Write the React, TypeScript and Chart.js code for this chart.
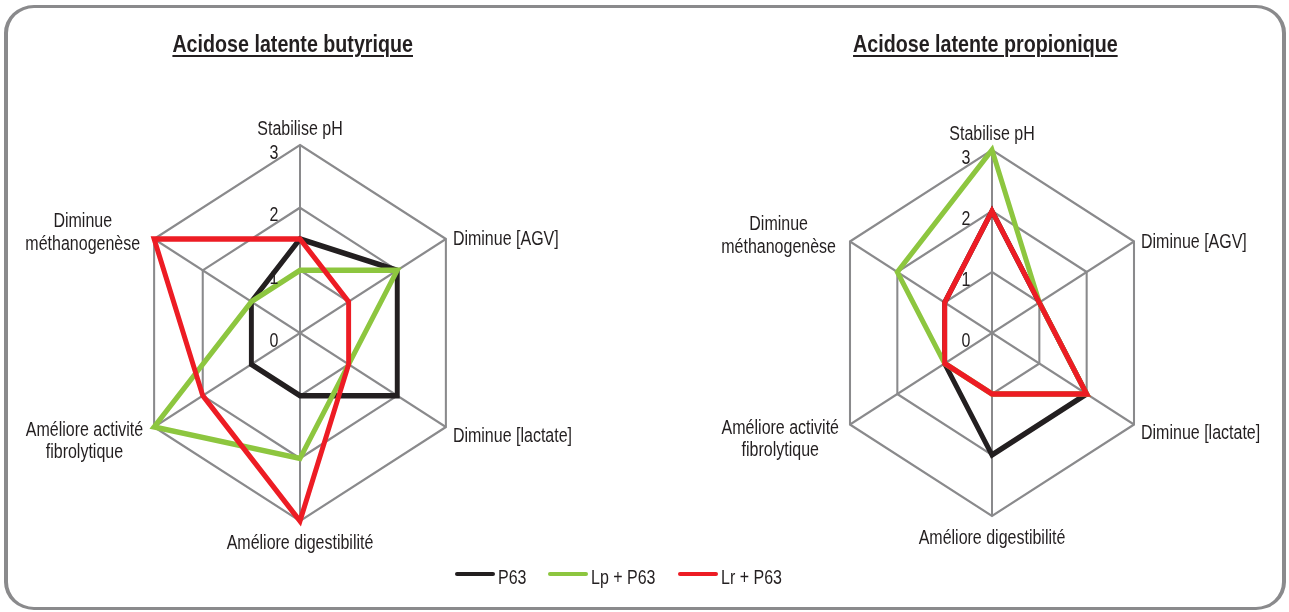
import React, { useEffect, useRef } from 'react';
import { Chart, registerables } from 'chart.js';

Chart.register(...registerables);

// Axes of both radar charts (clockwise from the top)
const AXES: (string | string[])[] = [
  'Stabilise pH',
  'Diminue [AGV]',
  'Diminue [lactate]',
  'Améliore digestibilité',
  ['Améliore activité', 'fibrolytique'],
  ['Diminue', 'méthanogenèse'],
];

const TICK_VALUES = [0, 1, 2, 3];
const SERIES_NAMES = ['P63', 'Lp + P63', 'Lr + P63'];
const SERIES_COLORS = ['#231f20', '#8dc63f', '#ed1c24'];

// Acidose latente butyrique
const BUTY_P63 = [1.5, 2, 2, 1, 1, 1];
const BUTY_LP = [1, 2, 1, 2, 3, 1];
const BUTY_LR = [1.5, 1, 1, 3, 2, 3];

// Acidose latente propionique
const PROP_P63 = [2, 1, 2, 2, 1, 1];
const PROP_LP = [3, 1, 2, 1, 1, 2];
const PROP_LR = [2, 1, 2, 1, 1, 1];

const TITLES = ['Acidose latente butyrique', 'Acidose latente propionique'];

// horizontal compression of the web and of the condensed lettering
const WEB_SX = 0.896;
const TEXT_SX = 0.8;
const GRID_COLOR = '#8a8a8c';
const TEXT_COLOR = '#231f20';
const AXIS_FONT = '20px "Liberation Sans", Arial, sans-serif';

type Placement = { kind: 'center' | 'left' | 'block'; dx: number; dy: number; lh?: number };
const LABEL_PLACEMENT: Placement[] = [
  { kind: 'center', dx: 0, dy: -10 },
  { kind: 'left', dx: 7, dy: 6 },
  { kind: 'left', dx: 7, dy: 14.5 },
  { kind: 'center', dx: 0, dy: 28 },
  { kind: 'block', dx: -11, dy: 9, lh: 22 },
  { kind: 'block', dx: -14, dy: -12, lh: 23 },
];

function drawCondensed(ctx: CanvasRenderingContext2D, text: string, x: number, y: number, align: CanvasTextAlign) {
  ctx.save();
  ctx.translate(x, y);
  ctx.scale(TEXT_SX, 1);
  ctx.textAlign = align;
  ctx.textBaseline = 'alphabetic';
  ctx.fillText(text, 0, 0);
  ctx.restore();
}

// squeezes the web horizontally around the scale centre
const squishPlugin = {
  id: 'squish',
  beforeDraw(chart: any) {
    const s = chart.scales.r;
    const ctx = chart.ctx;
    ctx.save();
    ctx.translate(s.xCenter, 0);
    ctx.scale(WEB_SX, 1);
    ctx.translate(-s.xCenter, 0);
  },
  afterDatasetsDraw(chart: any) {
    chart.ctx.restore();
  },
};

// tick numbers and axis names, placed from the scale geometry
const axisTextPlugin = {
  id: 'axisText',
  afterDraw(chart: any) {
    const s = chart.scales.r;
    const ctx: CanvasRenderingContext2D = chart.ctx;
    const cx = s.xCenter;
    const sq = (x: number) => cx + WEB_SX * (x - cx);
    ctx.save();
    ctx.fillStyle = TEXT_COLOR;
    ctx.font = AXIS_FONT;
    TICK_VALUES.forEach((v) => {
      const y = s.yCenter - s.getDistanceFromCenterForValue(v);
      drawCondensed(ctx, String(v), cx - 26, y + 13.5, 'center');
    });
    const outer = s.getDistanceFromCenterForValue(s.max);
    chart.data.labels.forEach((label: string | string[], i: number) => {
      const p = s.getPointPosition(i, outer);
      const x = sq(p.x);
      const y = p.y;
      const pl = LABEL_PLACEMENT[i];
      const lines = Array.isArray(label) ? label : [label];
      if (pl.kind === 'center') {
        drawCondensed(ctx, lines[0], x + pl.dx, y + pl.dy, 'center');
      } else if (pl.kind === 'left') {
        drawCondensed(ctx, lines[0], x + pl.dx, y + pl.dy, 'left');
      } else {
        const maxW = Math.max(...lines.map((t) => ctx.measureText(t).width * TEXT_SX));
        const mid = x + pl.dx - maxW / 2;
        lines.forEach((t, k) => drawCondensed(ctx, t, mid, y + pl.dy + k * (pl.lh || 22), 'center'));
      }
    });
    ctx.restore();
  },
};

type PanelProps = {
  series: number[][];
  left: number;
  width: number;
  pad: { left: number; right: number; top: number; bottom: number };
};

function RadarPanel({ series, left, width, pad }: PanelProps) {
  const ref = useRef<HTMLCanvasElement>(null);
  useEffect(() => {
    const chart = new Chart(ref.current as HTMLCanvasElement, {
      type: 'radar',
      data: {
        labels: AXES as any,
        datasets: series.map((d, k) => ({
          label: SERIES_NAMES[k],
          data: d,
          borderColor: SERIES_COLORS[k],
          backgroundColor: SERIES_COLORS[k],
          borderWidth: 5.5,
          borderJoinStyle: 'miter',
          pointRadius: 0,
          pointHoverRadius: 0,
          fill: false,
          tension: 0,
          order: 2 - k,
          clip: false as any,
        })),
      },
      options: {
        responsive: false,
        animation: false,
        devicePixelRatio: 1,
        events: [],
        layout: { padding: pad },
        plugins: { legend: { display: false }, tooltip: { enabled: false }, title: { display: false } },
        scales: {
          r: {
            min: 0,
            max: 3,
            beginAtZero: true,
            ticks: { display: false, stepSize: 1 },
            pointLabels: { display: false },
            grid: { color: GRID_COLOR, lineWidth: 2.3, circular: false },
            angleLines: { color: GRID_COLOR, lineWidth: 2.3 },
          },
        },
      } as any,
      plugins: [squishPlugin, axisTextPlugin],
    });
    return () => chart.destroy();
  }, []);
  return (
    <canvas
      ref={ref}
      width={width}
      height={612}
      style={{ position: 'absolute', left, top: 0, width, height: 612 }}
    />
  );
}

const condensed = (origin: string): React.CSSProperties => ({
  display: 'inline-block',
  transform: `scaleX(${TEXT_SX + 0.02})`,
  transformOrigin: origin,
  whiteSpace: 'pre',
});

function Title({ text, center }: { text: string; center: number }) {
  return (
    <div
      style={{
        position: 'absolute',
        left: center - 300,
        width: 600,
        top: 32,
        textAlign: 'center',
        font: 'bold 24px/24px "Liberation Sans", Arial, sans-serif',
        color: TEXT_COLOR,
      }}
    >
      <span
        style={{
          ...condensed('center'),
          textDecoration: 'underline',
          textDecorationThickness: '2px',
          textUnderlineOffset: '3px',
        }}
      >
        {text}
      </span>
    </div>
  );
}

function LegendItem({ name, color, x }: { name: string; color: string; x: number }) {
  return (
    <>
      <div
        style={{
          position: 'absolute',
          left: x,
          top: 572,
          width: 40,
          height: 4,
          borderRadius: 2,
          background: color,
        }}
      />
      <div
        style={{
          position: 'absolute',
          left: x + 43,
          top: 567,
          font: '20px/20px "Liberation Sans", Arial, sans-serif',
          color: TEXT_COLOR,
        }}
      >
        <span style={{ display: 'inline-block', transform: `scaleX(${TEXT_SX})`, transformOrigin: 'left center', whiteSpace: 'pre' }}>
          {name}
        </span>
      </div>
    </>
  );
}

const LEGEND_X = [455, 548, 678];

export default function App() {
  return (
    <div
      style={{
        position: 'absolute',
        left: 0,
        top: 0,
        width: 1289,
        height: 612,
        overflow: 'hidden',
        background: '#ffffff',
      }}
    >
      <div
        style={{
          position: 'absolute',
          left: 4,
          top: 5,
          width: 1282,
          height: 605,
          boxSizing: 'border-box',
          borderStyle: 'solid',
          borderColor: '#8a8a8c',
          borderWidth: '3px 4px',
          borderRadius: '30px / 28px',
        }}
      />
      <RadarPanel
        series={[BUTY_P63, BUTY_LP, BUTY_LR]}
        left={0}
        width={645}
        pad={{ left: 112, right: 157, top: 145, bottom: 91 }}
      />
      <RadarPanel
        series={[PROP_P63, PROP_LP, PROP_LR]}
        left={645}
        width={644}
        pad={{ left: 164, right: 114, top: 150, bottom: 96 }}
      />
      <Title text={TITLES[0]} center={293} />
      <Title text={TITLES[1]} center={985} />
      {SERIES_NAMES.map((n, k) => (
        <LegendItem key={n} name={n} color={SERIES_COLORS[k]} x={LEGEND_X[k]} />
      ))}
    </div>
  );
}
